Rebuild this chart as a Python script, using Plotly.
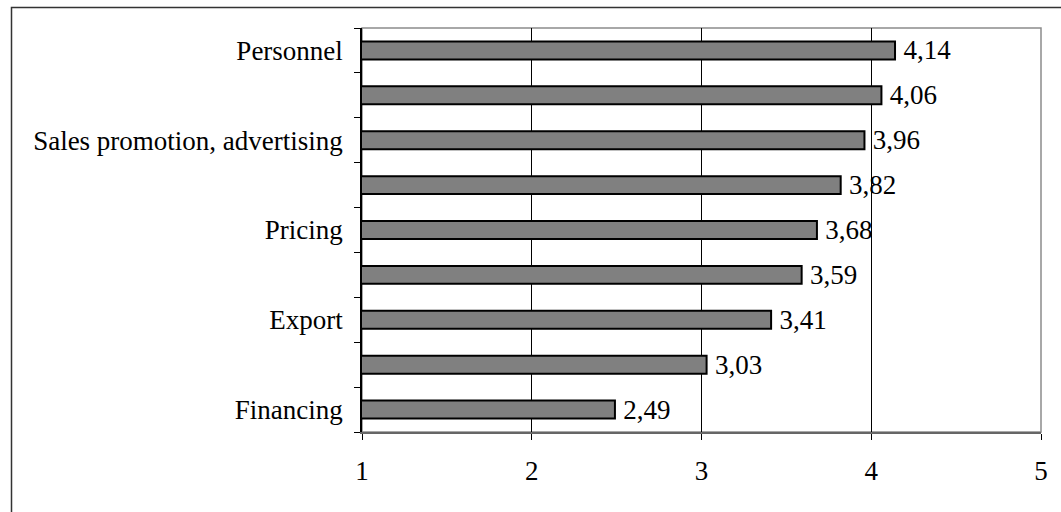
import plotly.graph_objects as go

# Category labels, top to bottom (alternate rows carry no printed label)
categories = ["Personnel", " ", "Sales promotion, advertising", "  ", "Pricing",
              "   ", "Export", "    ", "Financing"]
scores = [4.14, 4.06, 3.96, 3.82, 3.68, 3.59, 3.41, 3.03, 2.49]
x_ticks = [1, 2, 3, 4, 5]

# value labels with decimal comma, set a little apart from the bar end
value_text = ["\u2009" + f"{v:.2f}".replace(".", ",") for v in scores]

FONT = "Liberation Serif, Times New Roman, serif"
SIZE = 27

fig = go.Figure(
    go.Bar(
        x=scores,
        y=categories,
        orientation="h",
        marker=dict(color="#808080", line=dict(color="black", width=2)),
        text=value_text,
        textposition="outside",
        constraintext="none",
        textfont=dict(family=FONT, size=SIZE, color="black"),
        cliponaxis=False,
        showlegend=False,
    )
)

fig.update_layout(
    width=1061,
    height=512,
    margin=dict(l=362, r=20, t=28, b=80),
    paper_bgcolor="white",
    plot_bgcolor="white",
    bargap=0.6,
    font=dict(family=FONT, size=SIZE, color="black"),
    shapes=[
        # plot-area frame (grey on the top and right)
        dict(type="rect", xref="paper", yref="paper", x0=0, x1=1, y0=0, y1=1,
             line=dict(color="#8c8c8c", width=1.5), layer="below"),
        # outer chart border
        dict(type="rect", xref="paper", yref="paper",
             x0=(11.5 - 362) / 679, x1=(1075 - 362) / 679,
             y0=(432 - 530) / 404, y1=1 + 20.5 / 404,
             line=dict(color="#333333", width=1.5), layer="below"),
    ],
)

fig.update_xaxes(
    range=[1, 5],
    tickvals=x_ticks,
    ticktext=[str(t) for t in x_ticks],
    showgrid=True,
    gridcolor="black",
    gridwidth=1,
    showline=True,
    linecolor="#666666",
    linewidth=2,
    ticks="outside",
    ticklen=6,
    tickcolor="black",
    ticklabelstandoff=8,
    zeroline=False,
    fixedrange=True,
)

fig.update_yaxes(
    type="category",
    categoryorder="array",
    categoryarray=categories[::-1],
    autorange=False,
    range=[-0.5, len(categories) - 0.5],
    showline=True,
    linecolor="black",
    linewidth=1.5,
    ticks="outside",
    tickson="boundaries",
    ticklen=6,
    tickcolor="black",
    ticklabelstandoff=12,
    showgrid=False,
    zeroline=False,
    fixedrange=True,
)

fig.write_html("out.html")
